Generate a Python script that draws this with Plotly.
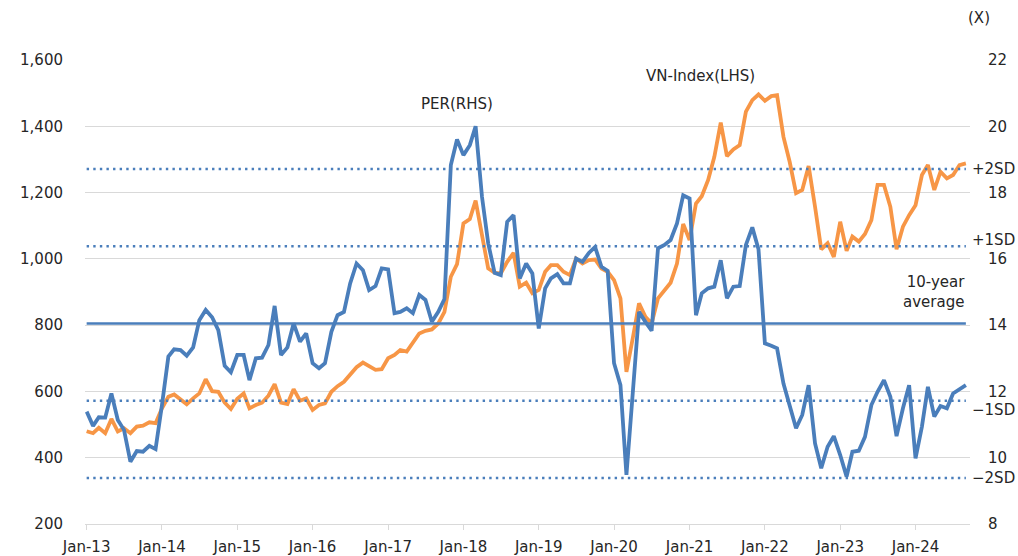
import pandas as pd
import plotly.graph_objects as go

# ---- data (monthly, Jan-13 .. Sep-24) ----
months = pd.date_range("2013-01-01", periods=141, freq="MS")

per_rhs = [
    11.39, 10.96, 11.22, 11.21, 11.94, 11.14, 10.84, 9.88, 10.20, 10.18, 10.36, 10.26,
    11.59, 13.05, 13.27, 13.25, 13.08, 13.33, 14.15, 14.46, 14.24, 13.85, 12.77, 12.58,
    13.10, 13.10, 12.34, 13.00, 13.02, 13.40, 14.58, 13.10, 13.33, 14.05, 13.50, 13.75,
    12.85, 12.70, 12.85, 13.80, 14.30, 14.40, 15.26, 15.86, 15.66, 15.06, 15.18, 15.71,
    15.68, 14.36, 14.40, 14.51, 14.36, 14.91, 14.76, 14.10, 14.40, 14.79, 18.83, 19.60,
    19.13, 19.43, 20.00, 17.87, 16.47, 15.58, 15.51, 17.12, 17.32, 15.41, 15.86, 15.56,
    13.90, 15.11, 15.41, 15.54, 15.26, 15.26, 16.01, 15.91, 16.18, 16.36, 15.76, 15.64,
    12.85, 12.19, 9.48, 11.90, 14.40, 14.10, 13.83, 16.32, 16.42, 16.57, 17.07, 17.92,
    17.82, 14.30, 14.96, 15.11, 15.16, 15.96, 14.81, 15.16, 15.18, 16.42, 16.95, 16.29,
    13.45, 13.38, 13.30, 12.24, 11.59, 10.89, 11.29, 12.19, 10.43, 9.68, 10.33, 10.65,
    10.08, 9.43, 10.18, 10.21, 10.63, 11.59, 11.99, 12.34, 11.84, 10.65, 11.49, 12.19,
    9.98, 10.94, 12.14, 11.24, 11.56, 11.49, 11.94, 12.06, 12.19,
]

vn_index_lhs = [
    480, 474, 490, 474, 517, 479, 489, 474, 494, 497, 507, 504,
    549, 584, 591, 576, 561, 579, 594, 637, 601, 599, 566, 547,
    578, 594, 549, 559, 566, 587, 622, 566, 562, 607, 572, 579,
    544, 559, 564, 599, 616, 629, 649, 673, 687, 677, 665, 667,
    700, 710, 725, 720, 745, 775, 783, 787, 805, 840, 946, 984,
    1107, 1120, 1176, 1077, 971, 958, 956, 991, 1018, 916, 928, 896,
    906, 961, 981, 981, 961, 951, 1001, 986, 996, 998, 971, 961,
    936, 881, 659, 762, 866, 825, 805, 881, 906, 928, 986, 1105,
    1057, 1167, 1189, 1238, 1308, 1411, 1310, 1330, 1343, 1444, 1479, 1496,
    1477, 1491, 1494, 1368, 1293, 1198, 1208, 1280, 1157, 1029, 1047, 1006,
    1112, 1024, 1067, 1052, 1075, 1117, 1223, 1223, 1157, 1029, 1097, 1132,
    1162, 1253, 1283, 1208, 1263, 1243, 1253, 1283, 1288,
]

per_avg = 14.05          # 10-year average
per_sd = 2.33            # one standard deviation
band_labels = ["+2SD", "+1SD", "\u22121SD", "\u22122SD"]
band_mults = [2, 1, -1, -2]

left_ticks = list(range(200, 1601, 200))
right_ticks = list(range(8, 23, 2))

# ---- styles ----
BLUE = "#4a7ebb"
ORANGE = "#f79646"
GRID = "#d9d9d9"
TXT = "#262626"
FONT = "Verdana, DejaVu Sans, sans-serif"

fig = go.Figure()

x_band = [months[0], months[-1]]
# SD bands (dotted)
for m in band_mults:
    v = per_avg + m * per_sd
    fig.add_trace(go.Scatter(x=x_band, y=[v, v], yaxis="y2", mode="lines",
                             line=dict(color=BLUE, width=2.4, dash="2.4px,4.2px"),
                             hoverinfo="skip", showlegend=False))
# 10-year average
fig.add_trace(go.Scatter(x=x_band, y=[per_avg, per_avg], yaxis="y2", mode="lines",
                         line=dict(color=BLUE, width=2.6), hoverinfo="skip", showlegend=False))

fig.add_trace(go.Scatter(x=months, y=vn_index_lhs, name="VN-Index(LHS)", mode="lines",
                         line=dict(color=ORANGE, width=3.8), showlegend=False))
fig.add_trace(go.Scatter(x=months, y=per_rhs, name="PER(RHS)", yaxis="y2", mode="lines",
                         line=dict(color=BLUE, width=3.8), showlegend=False))

annos = [
    dict(text="PER(RHS)", x=457, y=104),
    dict(text="VN-Index(LHS)", x=700, y=76),
    dict(text="(X)", x=979, y=18),
]
annotations = []
for a in annos:
    annotations.append(dict(text=a["text"], xref="paper", yref="paper",
                            x=(a["x"] - 85) / 885, y=(524 - a["y"]) / 464,
                            xanchor="center", yanchor="middle", showarrow=False,
                            font=dict(family=FONT, size=15, color=TXT)))
band_shift = {2: 0, 1: 6, -1: -9, -2: 0}
for lab, m in zip(band_labels, band_mults):
    annotations.append(dict(text=lab, xref="paper", yref="y2", x=1.0,
                            y=per_avg + m * per_sd, xanchor="left", yanchor="middle",
                            yshift=band_shift[m], showarrow=False,
                            font=dict(family=FONT, size=15, color=TXT)))
annotations.append(dict(text="10-year<br>average", xref="paper", yref="y2", x=1.0,
                        xshift=-3, y=per_avg, yshift=10, xanchor="right", yanchor="bottom",
                        align="right", showarrow=False,
                        font=dict(family=FONT, size=15, color=TXT)))

fig.update_layout(
    width=1018, height=556,
    margin=dict(l=85, r=48, t=60, b=32, autoexpand=False),
    paper_bgcolor="white", plot_bgcolor="white",
    font=dict(family=FONT, size=15, color=TXT),
    showlegend=False,
    annotations=annotations,
    xaxis=dict(
        type="date",
        range=["2012-12-24", "2024-09-21"],
        tickvals=[pd.Timestamp(f"{y}-01-01") for y in range(2013, 2025)],
        tickformat="%b-%y",
        showgrid=False, showline=True, linecolor=GRID, linewidth=1.3,
        ticks="outside", ticklen=5, tickcolor=GRID, tickwidth=1.3,
        ticklabelstandoff=4, automargin=False,
        tickfont=dict(family=FONT, size=15, color=TXT),
        zeroline=False,
    ),
    yaxis=dict(
        range=[200, 1600], tickvals=left_ticks, tickformat=",",
        showgrid=True, gridcolor=GRID, gridwidth=1.3, zeroline=False,
        showline=False, ticks="", ticklabelstandoff=21, automargin=False,
        tickfont=dict(family=FONT, size=15, color=TXT),
    ),
    yaxis2=dict(
        range=[8, 22], tickvals=right_ticks, overlaying="y", side="right",
        showgrid=False, zeroline=False, showline=False, ticks="",
        ticklabelstandoff=17, automargin=False,
        tickfont=dict(family=FONT, size=15, color=TXT),
    ),
)

fig.write_html("out.html", config={"displayModeBar": False},
               post_script="document.body.style.margin='0';document.body.style.padding='0';")
